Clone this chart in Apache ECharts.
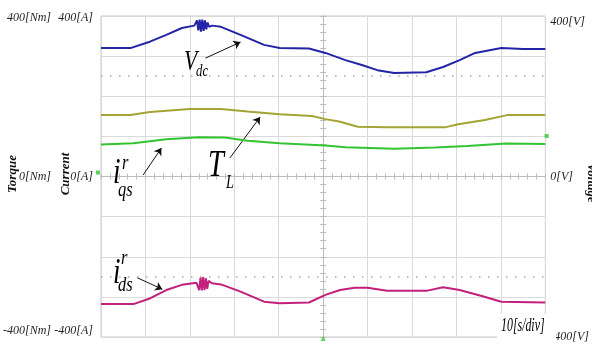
<!DOCTYPE html>
<html><head><meta charset="utf-8">
<script src="https://cdn.jsdelivr.net/npm/echarts@6/dist/echarts.min.js"></script>
<style>html,body{margin:0;padding:0;background:#fff}#c{width:592px;height:344px}</style>
</head><body><div id="c"></div>
<script>
// time axis: 10 divisions of 10 s (10[s/div]); vertical: 8 divisions of 100 units
const timeRange = [0, 100];
const valueRange = [-400, 400];
const labelTicks = [-400, 0, 400];
const torqueUnit = '[Nm]';
const currentUnit = '[A]';
const voltageUnit = '[V]';

// DC-link voltage trace (blue), [time s, value]
const vdcData = [[0,320],[6.6,320],[11,336],[14.7,353],[18.2,370],[21,376],
  [21.3,377],[21.6,389],[21.9,364],[22.2,391],[22.5,361],[22.8,391],[23.1,363],[23.4,389],[23.7,367],[24,384],[24.3,373],
  [25,376],[27,373],[31.4,353],[36.7,328],[40.2,320],[46.8,319],[50.5,308],[55,290],[58.7,278],[62.2,265],[66,258],
  [73.2,260],[77,273],[80.7,290],[84.2,308],[90.1,320],[95,318],[100,318]];
// load torque T_L (olive)
const tlData = [[0,153],[6.6,153],[11,161],[20,168],[27,168],[33,162],[40.2,155],[47.5,151],[50.5,143],[53.6,137],
  [57.8,124],[64.4,123],[77.6,123],[80.4,130],[86.4,141],[91.4,153],[100,153]];
// q-axis current (green)
const iqsData = [[0,80],[7.3,83],[14.7,93],[22,98],[27.9,97],[33,89],[40.2,83],[50.5,77],[55,73],[66,69],
  [75.2,72],[82.4,76],[91.2,82],[100,81]];
// d-axis current (magenta)
const idsData = [[0,-318],[7.3,-318],[11,-304],[14.7,-283],[18.2,-270],[21.5,-265],
  [21.8,-262],[22.1,-283],[22.4,-252],[22.7,-284],[23,-251],[23.3,-283],[23.6,-254],[23.9,-280],[24.2,-260],
  [25,-266],[27,-269],[31.4,-287],[36.7,-312],[40.2,-316],[46.8,-314],[50.5,-295],[53.8,-283],[57.1,-277],[60,-277],
  [64.4,-285],[73.2,-285],[77,-276],[80.7,-283],[85.7,-298],[90.1,-312],[100,-314]];
// cursor (dotted) levels
const cursorLevels = [250, -250];
// annotation arrows [from, to]
const arrows = [
  [[23.5,295],[31.4,335]],
  [[29,46],[35.8,148]],
  [[9.5,4],[13.6,71]],
  [[8.1,-252],[13.8,-281]]
];
// channel markers
const markerData = [[-0.7,10],[100.3,101]];
const triggerData = [[50,-404]];

const serif = '"Liberation Serif","DejaVu Serif",serif';
const chart = echarts.init(document.getElementById('c'), null, {renderer:'canvas'});

function trace(name, data, color, extra) {
  return Object.assign({
    name, type:'line', data, showSymbol:false, symbol:'none', animation:false,
    xAxisIndex:0, yAxisIndex:0, z:5,
    lineStyle:{color, width:2}, itemStyle:{color}
  }, extra || {});
}
const gridColor = '#dadada';
const tickColor = '#bcbcbc';
function centerX(inside){
  return {type:'value', min:timeRange[0], max:timeRange[1], interval:10,
    axisLine:{show:true, onZero:true, onZeroAxisIndex:0, lineStyle:{color:tickColor, width:1}},
    axisTick:{show:true, inside, length:3, lineStyle:{color:tickColor}},
    minorTick:{show:true, splitNumber:5, length:3, lineStyle:{color:tickColor}},
    axisLabel:{show:false}, splitLine:{show:false}};
}
function centerY(inside){
  return {type:'value', min:valueRange[0], max:valueRange[1], interval:100, position:'left',
    axisLine:{show:true, onZero:true, onZeroAxisIndex:3, lineStyle:{color:tickColor, width:1}},
    axisTick:{show:true, inside, length:3, lineStyle:{color:tickColor}},
    minorTick:{show:true, splitNumber:5, length:3, lineStyle:{color:tickColor}},
    axisLabel:{show:false}, splitLine:{show:false}};
}
function labelY(position, offset, unit, margin, pads){
  return {type:'value', min:valueRange[0], max:valueRange[1], interval:400, position, offset,
    axisLine:{show:false, onZero:false}, axisTick:{show:false}, splitLine:{show:false},
    axisLabel:{show:true, margin, color:'#222', fontFamily:serif, fontStyle:'italic', fontSize:12,
      formatter: v => labelTicks.indexOf(v) < 0 ? '' :
        (v === 400 ? '{t|' + v + unit + '}' : v === -400 ? '{b|' + v + unit + '}' : '{m|' + v + unit + '}'),
      rich:{
        t:{fontFamily:serif, fontStyle:'italic', fontSize:12, color:'#222', padding:[pads[0],0,0,0]},
        m:{fontFamily:serif, fontStyle:'italic', fontSize:12, color:'#222'},
        b:{fontFamily:serif, fontStyle:'italic', fontSize:12, color:'#222', padding:[0,0,pads[1],0]}
      }}};
}
const txt = (text, x, y, size, extra) => Object.assign({
  type:'text', x, y, scaleX:0.75, z:50,
  style:{text, fill:'#000', font:'italic ' + size + 'px ' + serif, textAlign:'left', align:'left',
    textVerticalAlign:'middle', verticalAlign:'middle'}
}, extra || {});

chart.setOption({
  animation:false,
  backgroundColor:'#fff',
  grid:{left:100, top:16, width:455, height:321, show:true, borderColor:'#c6c6c6', borderWidth:1, containLabel:false},
  xAxis:[
    {type:'value', min:timeRange[0], max:timeRange[1], interval:10,
      axisLine:{show:false, onZero:false}, axisTick:{show:false}, axisLabel:{show:false},
      splitLine:{show:true, lineStyle:{color:gridColor, width:1}}},
    centerX(true), centerX(false),
    {type:'value', min:-50, max:50, show:false}
  ],
  yAxis:[
    {type:'value', min:valueRange[0], max:valueRange[1], interval:100, position:'left',
      axisLine:{show:false, onZero:false}, axisTick:{show:false}, axisLabel:{show:false},
      splitLine:{show:true, lineStyle:{color:gridColor, width:1}}},
    centerY(true), centerY(false),
    labelY('left', 42, torqueUnit, 8, [4,12]),
    labelY('left', 0, currentUnit, 8, [4,12]),
    labelY('right', 0, voltageUnit, 5, [12,0])
  ],
  series:[
    trace('Vdc', vdcData, '#2424a6', {
      markLine:{silent:true, animation:false, symbol:['none','arrow'], symbolSize:7, label:{show:false},
        lineStyle:{color:'#111', width:1, type:'solid'}, itemStyle:{color:'#111'}, emphasis:{disabled:true},
        data: arrows.map(a => [{coord:a[0]},{coord:a[1]}])}
    }),
    trace('TL', tlData, '#a3a336', {
      markLine:{silent:true, animation:false, symbol:['none','none'], label:{show:false},
        lineStyle:{color:'#a8a8a8', width:1.5, type:[1.5,7.5]}, emphasis:{disabled:true},
        data: cursorLevels.map(v => ({yAxis:v}))}
    }),
    trace('iqs', iqsData, '#33c433'),
    trace('ids', idsData, '#c2207a'),
    {type:'scatter', data:markerData, symbol:'rect', symbolSize:4, itemStyle:{color:'#33c433'}, clip:false, silent:true, z:6},
    {type:'scatter', data:triggerData, symbol:'triangle', symbolSize:5, itemStyle:{color:'#33c433'}, clip:false, silent:true, z:6}
  ],
  graphic:[
    txt('V', 184, 62, 29),
    txt('dc', 196, 72, 17),
    txt('T', 208, 166, 38),
    txt('L', 226, 183, 19),
    txt('i', 113, 174, 36),
    txt('r', 122, 163, 22),
    txt('qs', 118, 190, 22),
    txt('i', 113, 274, 36),
    txt('r', 121, 258, 22),
    txt('ds', 118, 285, 22),
    {type:'rect', shape:{x:497, y:314, width:59, height:30}, style:{fill:'#fff'}, z:40},
    txt('10[s/div]', 501, 326, 18, {scaleX:0.66}),
    {type:'text', x:13, y:174, rotation:Math.PI/2, z:50,
      style:{text:'Torque', fill:'#111', font:'italic bold 13px ' + serif, textAlign:'center', align:'center', textVerticalAlign:'middle', verticalAlign:'middle'}},
    {type:'text', x:66, y:174, rotation:Math.PI/2, z:50,
      style:{text:'Current', fill:'#111', font:'italic bold 13px ' + serif, textAlign:'center', align:'center', textVerticalAlign:'middle', verticalAlign:'middle'}},
    {type:'text', x:591, y:183, rotation:-Math.PI/2, z:50,
      style:{text:'Voltage', fill:'#111', font:'italic bold 13px ' + serif, textAlign:'center', align:'center', textVerticalAlign:'middle', verticalAlign:'middle'}}
  ]
});
</script>
</body></html>
